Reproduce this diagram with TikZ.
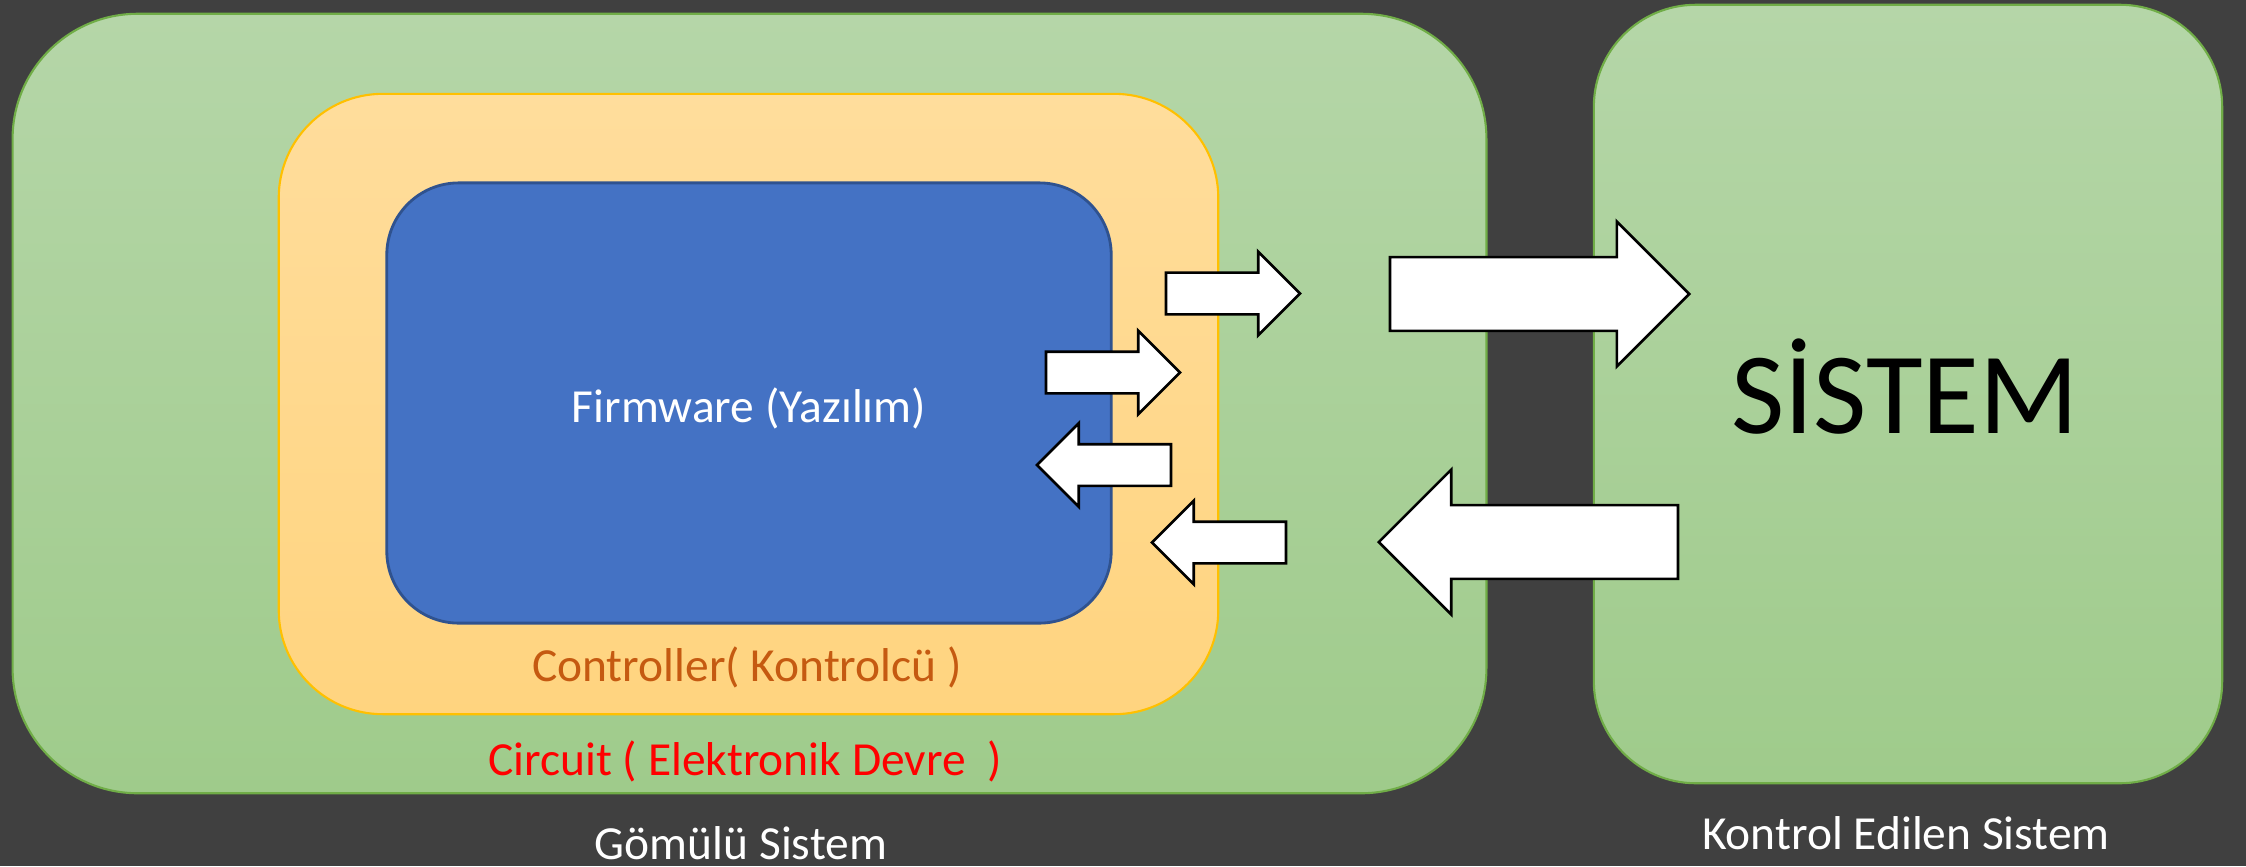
\documentclass[tikz,border=0pt]{standalone}
\usepackage{fontspec}
\setmainfont{Carlito}
\usetikzlibrary{shapes.arrows}

\definecolor{bgcol}{HTML}{404040}
\definecolor{greentop}{HTML}{B5D6A8}
\definecolor{greenbot}{HTML}{9FCB8B}
\definecolor{greenline}{HTML}{70AD47}
\definecolor{goldtop}{HTML}{FFDD9C}
\definecolor{goldbot}{HTML}{FFD47F}
\definecolor{goldline}{HTML}{FFC000}
\definecolor{chipblue}{HTML}{4472C4}
\definecolor{chipline}{HTML}{2F528F}
\definecolor{ctrltext}{HTML}{C55A11}

\begin{document}
\begin{tikzpicture}[x = 0.01cm, y = -0.01cm,
				board/.style = {draw = greenline, line width = 0.6pt,
				top color = greentop, bottom color = greenbot, inner sep = 0pt},
				gold/.style = {draw = goldline, line width = 0.6pt,
				top color = goldtop, bottom color = goldbot, inner sep = 0pt,
				minimum width = 9.39cm, minimum height = 6.2cm,
				rounded corners = 1.04cm},
				core/.style = {draw = chipline, line width = 0.8pt,
				fill = chipblue, inner sep = 0pt,
				minimum width = 7.24cm, minimum height = 4.4cm,
				rounded corners = 0.72cm},
				lbl/.style = {font = \fontsize{13.5}{16}\selectfont,
				inner sep = 0pt, anchor = base},
				smallarr/.style = {single arrow, draw, fill = white,
				line width = 0.75pt, inner xsep = 0pt, inner ysep = 0.195cm,
				minimum height = 1.34cm, outer sep = 0pt, anchor = tail,
				single arrow head extend = 0.21cm},
				bigarr/.style = {single arrow, draw, fill = white,
				line width = 0.75pt, inner xsep = 0pt, inner ysep = 0.355cm,
				minimum height = 2.99cm, outer sep = 0pt, anchor = tail,
				single arrow head extend = 0.355cm}]

				\fill [bgcol] (0,0) rectangle (2246,866);

				% embedded system side
				\node [board, minimum width = 14.73cm, minimum height = 7.79cm,
				rounded corners = 1.25cm] (emb) at (749.5,403.5) {};
				\node [gold] (ctrl) at (748.5,404) {};
				\node [core] (fw) at (749,403) {};

				% controlled system side
				\node [board, minimum width = 6.28cm, minimum height = 7.78cm,
				rounded corners = 1.02cm] (plant) at (1908,394) {};

				\node [lbl, text = white] (fw_t) at (749,422) {Firmware (Yazılım)};
				\node [lbl, text = ctrltext] (ctrl_t) at (747,681) {Controller( Kontrolcü )};
				\node [lbl, text = red] (emb_t) at (745,775) {Circuit ( Elektronik Devre~~)};
				\node [lbl, text = white] (emb_n) at (741,859) {Gömülü Sistem};
				\node [lbl, text = white] (plant_n) at (1906,849) {Kontrol Edilen Sistem};
				\node [lbl, font = \fontsize{33}{38}\selectfont] (plant_t) at (1905,433) {SİSTEM};

				% signal arrows (placed by their tails)
				\node [smallarr] (out_1) at (1166,293.5) {};
				\node [smallarr] (out_2) at (1046,372.5) {};
				\node [smallarr, shape border rotate = 180] (in_1) at (1171,465) {};
				\node [smallarr, shape border rotate = 180] (in_2) at (1286,542.5) {};
				\node [bigarr] (out_3) at (1390,294) {};
				\node [bigarr, shape border rotate = 180] (in_3) at (1678,542) {};
			\end{tikzpicture}
\end{document}
